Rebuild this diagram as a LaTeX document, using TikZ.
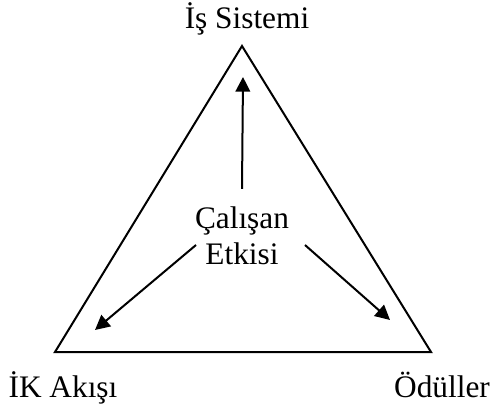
\documentclass[tikz,border=0pt]{standalone}
\usepackage{fontspec}
\setmainfont{Liberation Serif}
\usetikzlibrary{arrows.meta}

\begin{document}
\begin{tikzpicture}[x=0.75pt, y=-0.75pt, line width=1.5pt]
	\tikzset{etiket/.style={font=\fontsize{23.5}{27}\selectfont, inner sep=0pt},
		ok/.style={-{Triangle[length=11pt, width=11pt]}}}
	\useasboundingbox (0,0) rectangle (493,407);
	
	% Köşeler
	\coordinate (T) at (242,46);
	\coordinate (L) at (55,352);
	\coordinate (R) at (431,352);
	\draw[line join=miter] (T) -- (L) -- (R) -- cycle;
	
	% Köşe etiketleri
	\node[etiket, anchor=base] (is) at (247,28) {İş Sistemi};
	\node[etiket, anchor=base] (ik) at (63,397) {İK Akışı};
	\node[etiket, anchor=base] (od) at (442,397) {Ödüller};
	
	% Merkez (çalışan etkisi)
	\node[etiket, align=center] (ce) at (242,236) {Çalışan\\Etkisi};
	
	% Okların uçları
	\coordinate (u1) at (243,77);
	\coordinate (u2) at (95,330);
	\coordinate (u3) at (390,320);
	
	\draw[ok] ([yshift=12.75pt]ce.north) -- (u1);
	\draw[ok] ([shift={(2,9)}]ce.west) -- (u2);
	\draw[ok] ([shift={(15,9)}]ce.east) -- (u3);
\end{tikzpicture}
\end{document}
